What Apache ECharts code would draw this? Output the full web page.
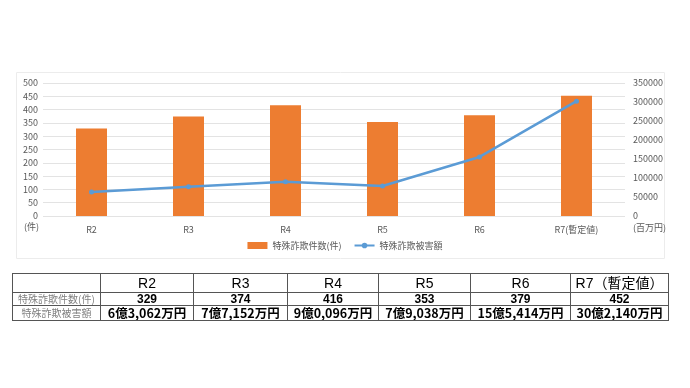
<!DOCTYPE html>
<html><head><meta charset="utf-8">
<script src="https://cdn.jsdelivr.net/npm/echarts@6/dist/echarts.min.js"></script>
<style>
html,body{margin:0;padding:0;background:#fff;}
#c{position:absolute;left:0;top:0;width:690px;height:388px;}
#t{position:absolute;left:12px;top:273px;border-collapse:collapse;font-family:"Liberation Sans","Noto Sans CJK JP",sans-serif;table-layout:fixed;}
#t td{border:1px solid #555;padding:0;text-align:center;line-height:1;overflow:hidden;white-space:nowrap;}
#t tr.h td{height:18px;font-size:14px;color:#000;}
#t tr.r1 td{height:12px;font-size:12px;font-weight:bold;}
#t tr.r2 td{height:14px;font-size:12.5px;font-weight:bold;font-family:"Noto Sans CJK JP",sans-serif;}
#t td.lab{font-weight:normal !important;color:#808080;font-size:10px !important;font-family:"Noto Sans CJK JP",serif !important;}
</style></head><body>
<div id="c"></div>
<table id="t"></table>
<script>
const categories = ['R2','R3','R4','R5','R6','R7(暫定値)'];
const tableHeaders = ['R2','R3','R4','R5','R6','R7（暫定値）'];
const counts = [329, 374, 416, 353, 379, 452];
const damage = [63062, 77152, 90096, 79038, 155414, 302140]; // 万円
const countName = '特殊詐欺件数(件)';
const damageName = '特殊詐欺被害額';
const rowLabels = ['特殊詐欺件数(件)', '特殊詐欺被害額'];
const leftTicks = [0, 500, 50];
const rightTicks = [0, 350000, 50000];

function fmtDamage(v){
  const oku = Math.floor(v/10000);
  const man = String(v%10000).padStart(4,'0');
  return oku + '億' + man.charAt(0) + ',' + man.slice(1) + '万円';
}

const colW = [88, 93, 94, 91, 92, 100, 98];
let html = '<colgroup>' + colW.map(w=>'<col style="width:'+w+'px">').join('') + '</colgroup>';
html += '<tr class="h"><td></td>' + tableHeaders.map(h=>'<td>'+h+'</td>').join('') + '</tr>';
html += '<tr class="r1"><td class="lab">'+rowLabels[0]+'</td>' + counts.map(v=>'<td>'+v+'</td>').join('') + '</tr>';
html += '<tr class="r2"><td class="lab">'+rowLabels[1]+'</td>' + damage.map(v=>'<td>'+fmtDamage(v)+'</td>').join('') + '</tr>';
document.getElementById('t').innerHTML = html;

const chart = echarts.init(document.getElementById('c'));
const axisLabel = {color:'#595959', fontSize:9, fontFamily:'"Noto Sans CJK JP", sans-serif'};
chart.setOption({
  animation:false,
  textStyle:{fontFamily:'"Noto Sans CJK JP", sans-serif'},
  graphic:[
    {type:'rect', shape:{x:16.5,y:72.5,width:648,height:186}, style:{fill:'none',stroke:'#ececec',lineWidth:1}, z:-1},
    {type:'text', left:24, top:222, style:{text:'(件)', fill:'#595959', font:'9px "Noto Sans CJK JP"'}},
    {type:'text', left:633, top:223, style:{text:'(百万円)', fill:'#595959', font:'9px "Noto Sans CJK JP"'}}
  ],
  grid:{left:43, right:65, top:83, bottom:172},
  legend:{
    bottom:133, left:'center', itemGap:12, itemWidth:20, itemHeight:7,
    textStyle:{color:'#595959', fontSize:9},
    data:[{name:countName, icon:'rect'}, {name:damageName}]
  },
  xAxis:{
    type:'category', data:categories,
    axisLine:{show:false}, axisTick:{show:false},
    axisLabel:Object.assign({margin:9}, axisLabel)
  },
  yAxis:[
    {type:'value', min:leftTicks[0], max:leftTicks[1], interval:leftTicks[2],
     axisLabel:Object.assign({margin:5}, axisLabel),
     splitLine:{lineStyle:{color:'#e3e3e3'}}, axisLine:{show:false}, axisTick:{show:false}},
    {type:'value', min:rightTicks[0], max:rightTicks[1], interval:rightTicks[2],
     axisLabel:Object.assign({margin:8, align:'left', formatter:v=>String(v)}, axisLabel),
     splitLine:{show:false}, axisLine:{show:false}, axisTick:{show:false}}
  ],
  series:[
    {name:countName, type:'bar', data:counts, barWidth:31, itemStyle:{color:'#ED7D31'}, yAxisIndex:0},
    {name:damageName, type:'line', data:damage, yAxisIndex:1, symbol:'circle', symbolSize:5,
     lineStyle:{color:'#5B9BD5', width:2.5}, itemStyle:{color:'#5B9BD5'}, z:3}
  ]
});
</script>
</body></html>
